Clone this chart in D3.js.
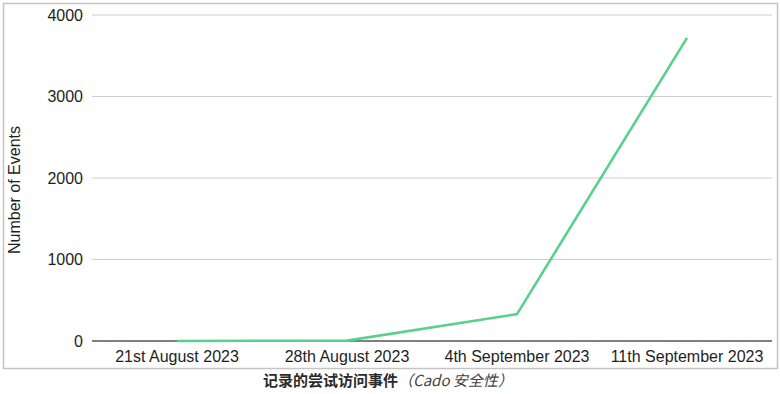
<!DOCTYPE html>
<html>
<head>
<meta charset="utf-8">
<script src="https://cdn.jsdelivr.net/npm/d3@7"></script>
<style>
  html, body { margin: 0; padding: 0; background: #fff; }
  svg { display: block; }
</style>
</head>
<body>
<svg id="chart" width="780" height="394"></svg>
<script>
// Weekly attempted-access events
const categories = ["21st August 2023", "28th August 2023", "4th September 2023", "11th September 2023"];
const eventCounts = [0, 5, 330, 3720];
const yTicks = [0, 1000, 2000, 3000, 4000];

const svg = d3.select("#chart");
const font = "'Liberation Sans', Arial, sans-serif";

const margin = { left: 92, right: 8, top: 15, bottom: 53 };
const W = 780, H = 394;

// frame around the chart
svg.append("rect")
  .attr("x", 3.5).attr("y", 3.5)
  .attr("width", 774).attr("height", 365)
  .attr("fill", "#fff").attr("stroke", "#c4c4c4").attr("stroke-width", 1.5);

const x = d3.scaleBand()
  .domain(categories)
  .range([margin.left, W - margin.right])
  .padding(0);

const y = d3.scaleLinear()
  .domain([0, 4000])
  .range([341, margin.top]);

// horizontal gridlines
svg.append("g")
  .selectAll("line")
  .data(yTicks.filter(d => d !== 0))
  .join("line")
  .attr("x1", margin.left).attr("x2", W - margin.right)
  .attr("y1", d => y(d)).attr("y2", d => y(d))
  .attr("stroke", "#cfcfcf").attr("stroke-width", 1.2);

// y axis labels
const yAxis = svg.append("g")
  .attr("transform", `translate(${margin.left},0)`)
  .call(d3.axisLeft(y).tickValues(yTicks).tickSize(0).tickPadding(9).tickFormat(d3.format("d")));
yAxis.select(".domain").remove();
yAxis.selectAll("text")
  .attr("font-family", font).attr("font-size", 16).attr("fill", "#1e1e1e");

// x axis labels
const xAxis = svg.append("g")
  .attr("transform", `translate(0,${y(0)})`)
  .call(d3.axisBottom(x).tickSize(0).tickPadding(10));
xAxis.select(".domain").remove();
xAxis.selectAll("text")
  .attr("font-family", font).attr("font-size", 16).attr("fill", "#1e1e1e");

// baseline
svg.append("line")
  .attr("x1", margin.left).attr("x2", W - margin.right)
  .attr("y1", y(0)).attr("y2", y(0))
  .attr("stroke", "#555").attr("stroke-width", 1.5);

// y axis title
svg.append("text")
  .attr("transform", `translate(20,${(y(0) + y(4000)) / 2 + 12}) rotate(-90)`)
  .attr("text-anchor", "middle")
  .attr("font-family", font).attr("font-size", 16).attr("fill", "#1e1e1e")
  .text("Number of Events");

// series line
const line = d3.line()
  .x((d, i) => x(categories[i]) + x.bandwidth() / 2)
  .y(d => y(d));

svg.append("path")
  .datum(eventCounts)
  .attr("d", line)
  .attr("fill", "none")
  .attr("stroke", "#5ad08e")
  .attr("stroke-width", 2.6)
  .attr("stroke-linejoin", "round");

// caption
const cap = svg.append("text")
  .attr("x", 388).attr("y", 386)
  .attr("text-anchor", "middle")
  .attr("font-size", 15).attr("fill", "#2a2a2a");
cap.append("tspan")
  .attr("font-family", "'Noto Sans CJK SC', sans-serif")
  .attr("font-weight", "bold")
  .text("记录的尝试访问事件");
cap.append("tspan")
  .attr("font-family", "'Noto Sans CJK SC', sans-serif")
  .attr("font-style", "italic")
  .attr("fill", "#444")
  .text("（Cado 安全性）");
</script>
</body>
</html>
